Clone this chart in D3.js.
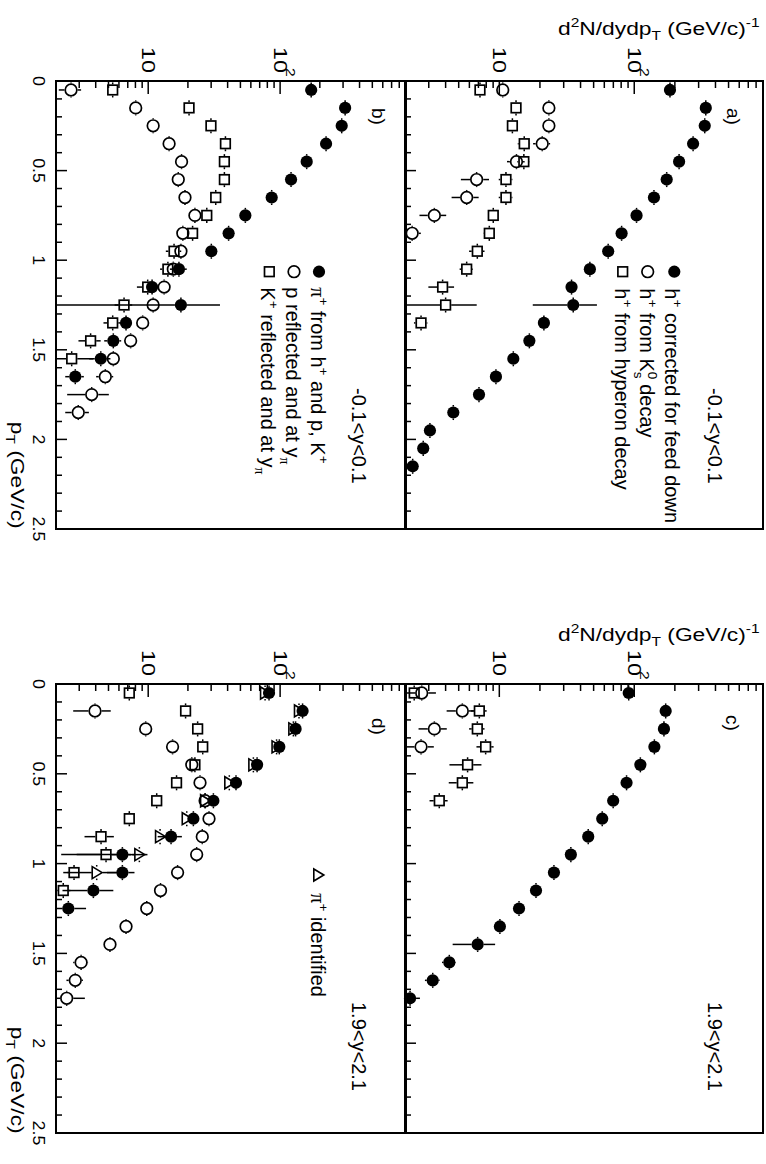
<!DOCTYPE html>
<html>
<head>
<meta charset="utf-8">
<script src="https://cdn.jsdelivr.net/npm/d3@7"></script>
<style>
  body { margin: 0; background: #fff; }
  svg { display: block; }
  text { font-family: "Liberation Sans", Arial, Helvetica, sans-serif; fill: #000; }
</style>
</head>
<body>
<svg id="fig" width="766" height="1164"></svg>
<script>
// ---------------- data ----------------
// panel a: -0.1<y<0.1, unidentified positive hadrons and feed-down
const aHcorrPt  = [0.05,0.15,0.25,0.35,0.45,0.55,0.65,0.75,0.85,0.95,1.05,1.15,1.25,1.35,1.45,1.55,1.65,1.75,1.85,1.95,2.05,2.15];
const aHcorrVal = [184,339,333,273,215,174,140,104,80.6,64.1,46.9,34.3,35.3,21.4,16.7,12.7,9.44,7.07,4.56,3.06,2.73,2.28];
const aHcorrErr = [0,0,0,0,0,0,0,0,0,0,0,0,17.6,0,0,0,0,0,0,0,0,0];

const aK0Pt  = [0.05,0.15,0.25,0.35,0.45,0.55,0.65,0.75,0.85];
const aK0Val = [10.6,23.3,23.3,20.8,13.4,6.79,5.73,3.30,2.26];
const aK0Err = [0.5,1.2,1.2,3.0,2.0,1.6,1.3,0.74,0.36];

const aHypPt  = [0.05,0.15,0.25,0.35,0.45,0.55,0.65,0.75,0.85,0.95,1.05,1.15,1.25,1.35];
const aHypVal = [7.19,13.3,12.5,15.3,15.2,11.2,11.2,9.02,8.43,6.87,5.73,3.80,4.0,2.63];
const aHypErr = [0.3,0.8,1.0,1.6,1.6,1.3,1.3,0.6,0.8,0.9,0.65,0.82,2.8,0.3];

// panel b: -0.1<y<0.1, pi+, reflected p and K+
const bPiPt  = [0.05,0.15,0.25,0.35,0.45,0.55,0.65,0.75,0.85,0.95,1.05,1.15,1.25,1.35,1.45,1.55,1.65];
const bPiVal = [172,311,293,223,159,121,86.3,54.5,40.7,30.1,17.1,10.7,17.7,6.79,5.44,4.37,2.80];
const bPiErr = [0,0,0,0,0,0,0,0,0,0,2.5,1.0,17.3,0.6,0.8,0.8,0.45];

const bPPt  = [0.05,0.15,0.25,0.35,0.45,0.55,0.65,0.75,0.85,0.95,1.05,1.15,1.25,1.35,1.45,1.55,1.65,1.75,1.85];
const bPVal = [2.60,8.04,10.9,14.4,17.9,16.9,19.0,22.6,18.3,17.7,15.5,13.2,10.9,9.08,7.36,5.44,4.73,3.73,2.95];
const bPErr = [0.5,0.5,0.6,0.8,1.0,1.0,1.0,1.2,1.0,1.0,1.0,1.0,1.0,0.9,0.8,0.6,0.7,1.3,0.6];

const bKPt  = [0.05,0.15,0.25,0.35,0.45,0.55,0.65,0.75,0.85,0.95,1.05,1.15,1.25,1.35,1.45,1.55];
const bKVal = [5.38,20.4,29.9,38.5,37.8,37.8,32.5,27.8,21.7,15.7,14.1,9.91,6.56,5.38,3.66,2.63];
const bKErr = [0.4,1.0,1.5,2.0,2.0,2.0,2.5,2.5,2.0,2.1,1.8,1.7,1.0,0.8,0.7,1.2];

// panel c: 1.9<y<2.1, unidentified positive hadrons and feed-down
const cHcorrPt  = [0.05,0.15,0.25,0.35,0.45,0.55,0.65,0.75,0.85,0.95,1.05,1.15,1.25,1.35,1.45,1.55,1.65,1.75];
const cHcorrVal = [91,171,166,141,111,87.7,69.8,57.9,45.6,33.9,25.4,18.7,14.0,10.1,6.91,4.26,3.21,2.18];
const cHcorrErr = [0,0,0,0,0,0,0,0,0,0,0,0,0,0,2.4,0.5,0.4,0.4];

const cK0Pt  = [0.05,0.15,0.25,0.35];
const cK0Val = [2.66,5.32,3.30,2.63];
const cK0Err = [0.73,1.25,0.78,0.64];

const cHypPt  = [0.05,0.15,0.25,0.35,0.45,0.55,0.65];
const cHypVal = [2.34,7.11,6.87,7.92,5.82,5.32,3.59];
const cHypErr = [0.2,0.95,0.9,1.15,1.55,1.1,0.55];

// panel d: 1.9<y<2.1, pi+, identified pi+, reflected p and K+
const dPiPt  = [0.05,0.15,0.25,0.35,0.45,0.55,0.65,0.75,0.85,0.95,1.05,1.15,1.25];
const dPiVal = [82.4,148,131,98.6,66.9,46.3,31.2,22.0,14.9,6.37,6.37,3.84,2.48];
const dPiErr = [0,0,0,0,0,0,0,0,3.1,3.5,1.5,1.6,0.9];

const dIdPt  = [0.05,0.15,0.25,0.35,0.45,0.55,0.65,0.75,0.85,0.95,1.05];
const dIdVal = [76.9,139,126,94,62.7,41.2,27.0,19.6,12.3,8.57,4.07];
const dIdErr = [0,0,0,0,0,0,0,0,0,1.0,1.8];

const dPPt  = [0.15,0.25,0.35,0.45,0.55,0.65,0.75,0.85,0.95,1.05,1.15,1.25,1.35,1.45,1.55,1.65,1.75];
const dPVal = [3.95,9.57,15.3,21.4,24.7,27.0,28.9,25.7,23.3,16.7,12.4,9.75,6.79,5.13,3.10,2.80,2.41];
const dPErr = [1.25,0.6,1.0,1.2,1.3,1.4,1.5,1.4,1.3,1.1,0.9,0.7,0.5,0.4,0.4,0.4,0.9];

const dKPt  = [0.05,0.15,0.25,0.35,0.45,0.55,0.65,0.75,0.85,0.95,1.05,1.15];
const dKVal = [7.19,19.2,23.7,25.9,22.6,16.4,11.6,7.19,4.39,4.79,2.74,2.27];
const dKErr = [0.3,1.0,1.2,1.3,1.2,1.0,0.8,0.6,1.1,2.6,0.3,0.3];

// axis ranges and labels
const valDomain = [2, 900];
const ptDomain = [0, 2.5];
const ptHalfBin = 0.042;
const ptLabelVals = [0, 0.5, 1, 1.5, 2, 2.5];
const ptLabelText = ["0", "0.5", "1", "1.5", "2", "2.5"];
const logLabelVals = [10, 100];
const logLabelBase = ["10", "10"];
const logLabelExp = ["", "2"];

// ---------------- drawing ----------------
const svg = d3.select("#fig");
const SERIF = "'Liberation Serif', 'Times New Roman', serif";

const panels = [
  { x0: 405, x1: 763, y0: 81,  y1: 529, tag: "a)", tagBx: 727, tagSy: 108, range: "-0.1<y<0.1", rangeBx: 708, rangeSy: 388, ptLabels: false,
    series: [
      { pt: aHypPt, val: aHypVal, err: aHypErr, m: "square" },
      { pt: aK0Pt, val: aK0Val, err: aK0Err, m: "open" },
      { pt: aHcorrPt, val: aHcorrVal, err: aHcorrErr, m: "filled" } ],
    legend: { my: 271.7, sy: 288.3, rows: [
      { m: "filled", mx: 674.3, bx: 665, parts: [{t:"h"},{t:"+",s:"sup"},{t:" corrected for feed down"}] },
      { m: "open",   mx: 647.7, bx: 640, parts: [{t:"h"},{t:"+",s:"sup"},{t:" from K"},{t:"0",s:"sup"},{t:"s",s:"sub",back:true},{t:" decay"}] },
      { m: "square", mx: 622.7, bx: 615, parts: [{t:"h"},{t:"+",s:"sup"},{t:" from hyperon decay"}] } ] } },
  { x0: 56, x1: 406, y0: 81, y1: 529, tag: "b)", tagBx: 372, tagSy: 108, range: "-0.1<y<0.1", rangeBx: 352, rangeSy: 388, ptLabels: true,
    series: [
      { pt: bKPt, val: bKVal, err: bKErr, m: "square" },
      { pt: bPPt, val: bPVal, err: bPErr, m: "open" },
      { pt: bPiPt, val: bPiVal, err: bPiErr, m: "filled" } ],
    legend: { my: 271.7, sy: 287.3, rows: [
      { m: "filled", mx: 319, bx: 311, parts: [{t:"\u03c0",f:SERIF},{t:"+",s:"sup"},{t:" from h"},{t:"+",s:"sup"},{t:" and p, K"},{t:"+",s:"sup"}] },
      { m: "open",   mx: 294, bx: 286, parts: [{t:"p reflected and at y"},{t:"\u03c0",s:"sub",f:SERIF}] },
      { m: "square", mx: 269.3, bx: 261, parts: [{t:"K"},{t:"+",s:"sup"},{t:" reflected and at y"},{t:"\u03c0",s:"sub",f:SERIF}] } ] } },
  { x0: 405, x1: 763, y0: 684, y1: 1133, tag: "c)", tagBx: 726, tagSy: 715, range: "1.9<y<2.1", rangeBx: 708, rangeSy: 1002, ptLabels: false,
    series: [
      { pt: cHypPt, val: cHypVal, err: cHypErr, m: "square" },
      { pt: cK0Pt, val: cK0Val, err: cK0Err, m: "open" },
      { pt: cHcorrPt, val: cHcorrVal, err: cHcorrErr, m: "filled" } ],
    legend: null },
  { x0: 56, x1: 406, y0: 684, y1: 1133, tag: "d)", tagBx: 372, tagSy: 718, range: "1.9<y<2.1", rangeBx: 352, rangeSy: 1002, ptLabels: true,
    series: [
      { pt: dKPt, val: dKVal, err: dKErr, m: "square" },
      { pt: dPPt, val: dPVal, err: dPErr, m: "open" },
      { pt: dIdPt, val: dIdVal, err: dIdErr, m: "triangle" },
      { pt: dPiPt, val: dPiVal, err: dPiErr, m: "filled" } ],
    legend: { my: 875, sy: 893.3, rows: [
      { m: "triangle", mx: 318.3, bx: 311, parts: [{t:"\u03c0",f:SERIF},{t:"+",s:"sup"},{t:" identified"}] } ] } }
];

// marker extents: [left, right, up/down] half sizes for error-bar gaps
const markerGap = { filled: [6, 6, 6], open: [6.6, 6.6, 6.6], square: [5.6, 5.6, 5.6], triangle: [5, 6, 6] };

function drawMarker(g, type, cx, cy) {
  if (type === "filled") {
    g.append("circle").attr("cx", cx).attr("cy", cy).attr("r", 6.1).attr("fill", "#000");
  } else if (type === "open") {
    g.append("circle").attr("cx", cx).attr("cy", cy).attr("r", 5.8)
      .attr("fill", "none").attr("stroke", "#000").attr("stroke-width", 1.7);
  } else if (type === "square") {
    g.append("rect").attr("x", cx - 4.8).attr("y", cy - 4.8).attr("width", 9.6).attr("height", 9.6)
      .attr("fill", "none").attr("stroke", "#000").attr("stroke-width", 1.7);
  } else if (type === "triangle") {
    // upward triangle of the original frame, turned with the page
    const pts = [[cx + 5.5, cy], [cx - 4.5, cy - 6], [cx - 4.5, cy + 6]];
    g.append("polygon").attr("points", pts.map(p => p.join(",")).join(" "))
      .attr("fill", "none").attr("stroke", "#000").attr("stroke-width", 1.6).attr("stroke-linejoin", "miter");
  }
}

function seg(g, x1, y1, x2, y2, w) {
  g.append("line").attr("x1", x1).attr("y1", y1).attr("x2", x2).attr("y2", y2)
    .attr("stroke", "#000").attr("stroke-width", w || 1.5);
}

// text turned 90 degrees clockwise: baseline at x = bx, reading downward from y = sy
function vtext(parent, bx, sy, size, anchor, stretch) {
  return parent.append("text")
    .attr("transform", `translate(${bx},${sy}) rotate(90)` + (stretch ? ` scale(${stretch},1)` : ""))
    .attr("font-size", size)
    .attr("text-anchor", anchor || "start");
}

function rich(textSel, parts, size) {
  let shift = 0;
  let lastWidth = 0;
  parts.forEach(p => {
    const small = p.s ? size * 0.68 : size;
    const target = p.s === "sup" ? -0.42 * size : p.s === "sub" ? 0.28 * size : 0;
    const ts = textSel.append("tspan").attr("font-size", small).attr("dy", target - shift).text(p.t);
    if (p.f) ts.attr("font-family", p.f);
    if (p.back) ts.attr("dx", -lastWidth);
    lastWidth = small * 0.556 * p.t.length;
    shift = target;
  });
}

panels.forEach(p => {
  const xv = d3.scaleLog().domain(valDomain).range([p.x0, p.x1]);
  const yp = d3.scaleLinear().domain(ptDomain).range([p.y0, p.y1]);
  const g = svg.append("g");

  // frame
  g.append("rect").attr("x", p.x0).attr("y", p.y0).attr("width", p.x1 - p.x0).attr("height", p.y1 - p.y0)
    .attr("fill", "none").attr("stroke", "#000").attr("stroke-width", 2);

  // logarithmic yield axis along the top edge
  xv.ticks().forEach(t => {
    const lg = Math.log10(t);
    const major = Math.abs(lg - Math.round(lg)) < 1e-9;
    const x = xv(t);
    if (x <= p.x0 + 1 || x >= p.x1 - 1) return;
    seg(g, x, p.y0, x, p.y0 + (major ? 13 : 7), 1.5);
  });
  logLabelVals.forEach((v, i) => {
    const x = xv(v);
    vtext(g, x - 6.5, p.y0 - 8, 18, "end", 1.3).text(logLabelBase[i]);
    if (logLabelExp[i]) vtext(g, x + 6.2, p.y0 - 13, 12, "start", 1.3).text(logLabelExp[i]);
  });

  // transverse momentum axis along the left edge
  yp.ticks(25).forEach(t => {
    const major = Math.abs(t * 2 - Math.round(t * 2)) < 1e-6;
    const y = yp(t);
    if (y <= p.y0 + 1 || y >= p.y1 - 1) return;
    seg(g, p.x0, y, p.x0 + (major ? 11 : 6), y, 1.5);
  });
  if (p.ptLabels) {
    ptLabelVals.forEach((v, i) => {
      vtext(g, 32.5, yp(v), 17, "middle", 1.05).text(ptLabelText[i]);
    });
  }

  // data points with error bars drawn outside the marker
  p.series.forEach(s => {
    const gap = markerGap[s.m];
    s.pt.forEach((q, i) => {
      const cx = xv(s.val[i]);
      const cy = yp(q);
      const yTop = yp(q - ptHalfBin), yBot = yp(q + ptHalfBin);
      if (yTop < cy - gap[2]) seg(g, cx, yTop, cx, cy - gap[2]);
      if (yBot > cy + gap[2]) seg(g, cx, cy + gap[2], cx, yBot);
      const e = s.err[i];
      if (e) {
        const lo = xv(Math.max(s.val[i] - e, valDomain[0]));
        const hi = xv(Math.min(s.val[i] + e, valDomain[1]));
        if (lo < cx - gap[0]) seg(g, lo, cy, cx - gap[0], cy);
        if (hi > cx + gap[1]) seg(g, cx + gap[1], cy, hi, cy);
      }
      drawMarker(g, s.m, cx, cy);
    });
  });

  // panel tag and rapidity window
  vtext(g, p.tagBx, p.tagSy, 19).text(p.tag);
  vtext(g, p.rangeBx, p.rangeSy, 20).text(p.range);

  // legend
  if (p.legend) {
    p.legend.rows.forEach(r => {
      drawMarker(g, r.m, r.mx, p.legend.my);
      rich(vtext(g, r.bx, p.legend.sy, 20), r.parts, 20);
    });
  }
});

// axis titles (one per row of panels)
[35, 641].forEach(by => {
  const t = svg.append("text")
    .attr("transform", `translate(558,${by}) scale(1.2,1)`)
    .attr("font-size", 19);
  rich(t, [{t:"d"},{t:"2",s:"sup"},{t:"N/dydp"},{t:"T",s:"sub"},{t:" (GeV/c)"},{t:"-1",s:"sup"}], 19);
});
[421.7, 1026.7].forEach(sy => {
  const t = vtext(svg, 11, sy, 19, "start", 1.2);
  rich(t, [{t:"p"},{t:"T",s:"sub"},{t:"  (GeV/c)"}], 19);
});
</script>
</body>
</html>
